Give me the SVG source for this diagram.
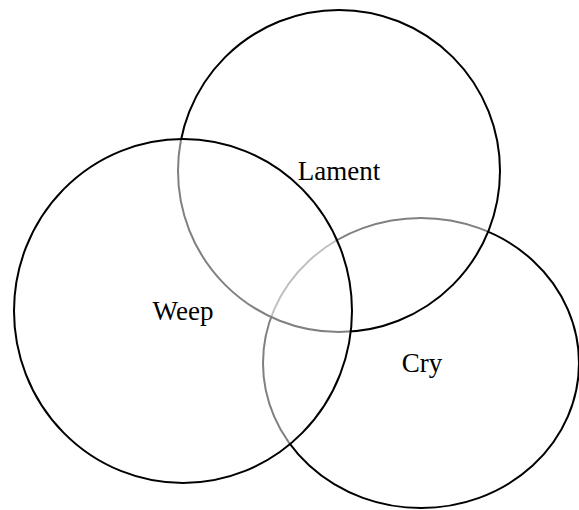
<svg xmlns="http://www.w3.org/2000/svg" width="579" height="510" viewBox="0 0 579 510">
  <style>
    .set { fill: #ffffff; fill-opacity: 0.5; stroke: #000000; stroke-width: 2; }
    .label { font-family: "Liberation Serif", "Times New Roman", serif; font-size: 27px; fill: #000000; text-anchor: middle; }
  </style>
  <rect width="579" height="510" fill="#ffffff"/>
  <g id="cry">
    <ellipse class="set" cx="421" cy="363" rx="158" ry="145"/>
    <text class="label" x="422" y="372">Cry</text>
  </g>
  <g id="lament">
    <circle class="set" cx="339" cy="171" r="161"/>
    <text class="label" x="339" y="180">Lament</text>
  </g>
  <g id="weep">
    <ellipse class="set" cx="183" cy="311" rx="169" ry="172"/>
    <text class="label" x="183" y="320">Weep</text>
  </g>
  <g id="connectors"></g>
</svg>
